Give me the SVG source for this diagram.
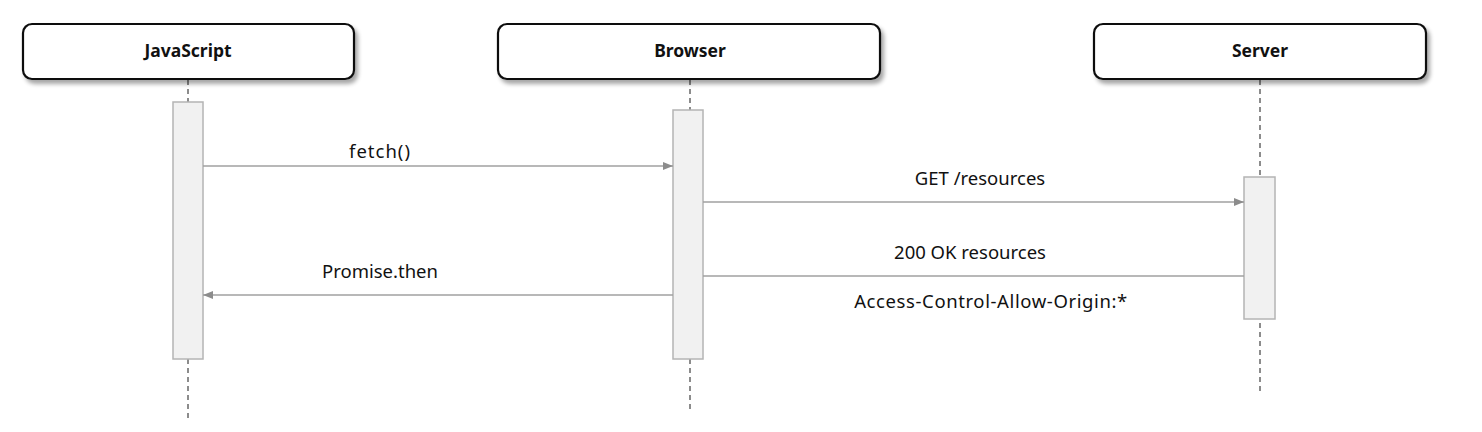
<svg xmlns="http://www.w3.org/2000/svg" width="1482" height="432" viewBox="0 0 1482 432">
<style>
.box{fill:#fff;stroke:#111;stroke-width:2.2}
.title{font-family:"Noto Sans",sans-serif;font-size:17.5px;font-weight:bold;fill:#111;text-anchor:middle}
.life{stroke:#8c8c8c;stroke-width:2;stroke-dasharray:5,4;fill:none}
.act{fill:#f1f1f1;stroke:#b4b4b4;stroke-width:1.5}
.msg{stroke:#a0a0a0;stroke-width:1.3;fill:none}
.lbl{font-family:"Noto Sans",sans-serif;font-size:18.5px;fill:#111;text-anchor:middle}
</style>
<defs>
<filter id="sh" x="-10%" y="-30%" width="120%" height="170%">
<feGaussianBlur in="SourceAlpha" stdDeviation="2"/>
<feOffset dx="3" dy="4"/>
<feComponentTransfer><feFuncA type="linear" slope="0.35"/></feComponentTransfer>
<feMerge><feMergeNode/><feMergeNode in="SourceGraphic"/></feMerge>
</filter>
<marker id="arr" markerWidth="10" markerHeight="8" refX="10" refY="4" orient="auto" markerUnits="userSpaceOnUse">
<path d="M0,0 L10,4 L0,8 Z" fill="#8c8c8c"/>
</marker>
</defs>
<g id="lifelines">
<line class="life" x1="188" y1="80" x2="188" y2="418"/>
<line class="life" x1="690" y1="80" x2="690" y2="410"/>
<line class="life" x1="1260" y1="80" x2="1260" y2="394"/>
</g>
<g id="javascript">
<rect class="box" x="23" y="24" width="331" height="55" rx="9" filter="url(#sh)"/>
<text class="title" x="188" y="57">JavaScript</text>
<rect class="act" x="173" y="102" width="30" height="257"/>
</g>
<g id="browser">
<rect class="box" x="498" y="24" width="382" height="55" rx="9" filter="url(#sh)"/>
<text class="title" x="690" y="57">Browser</text>
<rect class="act" x="673" y="110" width="30" height="249"/>
</g>
<g id="server">
<rect class="box" x="1094" y="24" width="332" height="55" rx="9" filter="url(#sh)"/>
<text class="title" x="1260" y="57">Server</text>
<rect class="act" x="1244" y="177" width="31" height="142"/>
</g>
<g id="connectors">
<line class="msg" x1="203" y1="166" x2="673" y2="166" marker-end="url(#arr)"/>
<text class="lbl" x="380" y="158" letter-spacing="1">fetch()</text>
<line class="msg" x1="703" y1="202" x2="1244" y2="202" marker-end="url(#arr)"/>
<text class="lbl" x="980" y="185">GET /resources</text>
<line class="msg" x1="1244" y1="276" x2="703" y2="276"/>
<text class="lbl" x="970" y="259">200 OK resources</text>
<text class="lbl" x="991" y="308" letter-spacing="0.6">Access-Control-Allow-Origin:*</text>
<line class="msg" x1="673" y1="295" x2="203" y2="295" marker-end="url(#arr)"/>
<text class="lbl" x="380" y="278">Promise.then</text>
</g>
</svg>
